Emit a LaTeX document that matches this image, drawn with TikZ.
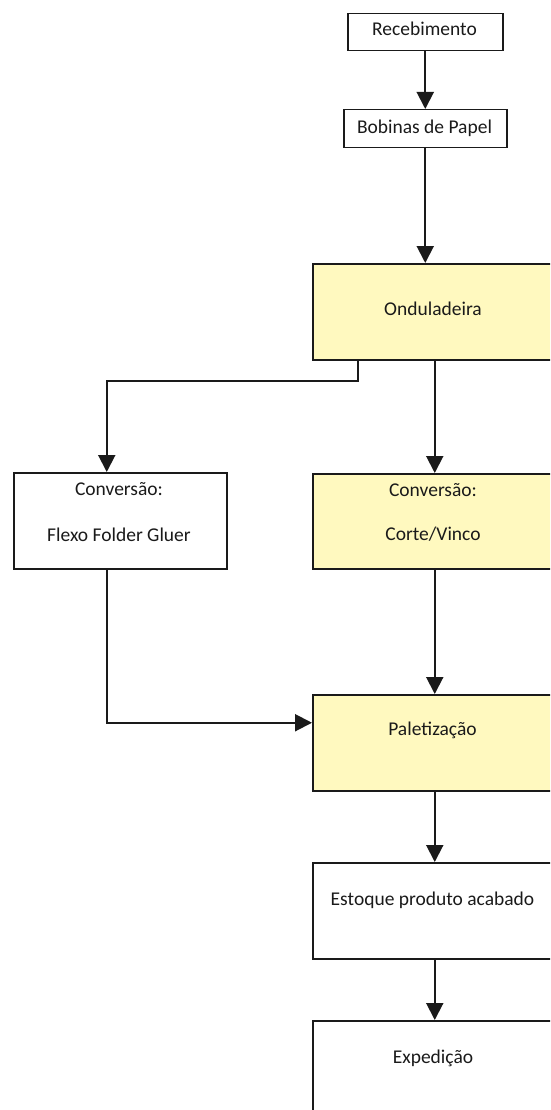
\documentclass[tikz,border=0pt]{standalone}
\usepackage{fontspec}
\setmainfont{Carlito}
\usetikzlibrary{arrows.meta}
\definecolor{boxfill}{HTML}{FFF9BF}
\definecolor{ink}{HTML}{1A1A1A}
\begin{document}
\begin{tikzpicture}[x=1pt,y=-1pt,
  stage/.style={draw=ink, line width=1.5pt, fill=white, rectangle, inner sep=0pt, anchor=north west},
  hl/.style={fill=boxfill},
  lbl/.style={font=\fontsize{19.5}{23}\selectfont, text=ink, anchor=mid, inner sep=0pt},
  arr/.style={draw=ink, line width=2pt, -{Triangle[length=17pt,width=17pt]}}]
\clip (0,0) rectangle (550,1110);
\fill[white] (0,0) rectangle (550,1110);

% process boxes
\node[stage, minimum width=155pt, minimum height=37pt] (rec) at (347,13) {};
\node[stage, minimum width=163pt, minimum height=38pt] (bob) at (343,109) {};
\node[stage, hl, minimum width=244pt, minimum height=96pt] (ond) at (312,263) {};
\node[stage, minimum width=213pt, minimum height=96pt] (conL) at (13,472) {};
\node[stage, hl, minimum width=244pt, minimum height=95pt] (conR) at (312,473) {};
\node[stage, hl, minimum width=244pt, minimum height=96pt] (pal) at (312,694) {};
\node[stage, minimum width=244pt, minimum height=96pt] (est) at (312,862) {};
\node[stage, minimum width=244pt, minimum height=96pt] (exp) at (312,1020) {};

% labels
\node[lbl] (recT) at (424.5,33.5) {Recebimento};
\node[lbl] (bobT) at (424.5,131) {Bobinas de Papel};
\node[lbl] (ondT) at (433,313) {Onduladeira};
\node[lbl] (conLa) at (119,493) {Conversão:};
\node[lbl] (conLb) at (119,539) {Flexo Folder Gluer};
\node[lbl] (conRa) at (433,494) {Conversão:};
\node[lbl] (conRb) at (433,538) {Corte/Vinco};
\node[lbl] (palT) at (432.5,733) {Paletização};
\node[lbl] (estT) at (432.5,903) {Estoque produto acabado};
\node[lbl] (expT) at (433,1061) {Expedição};

% flow
\draw[arr] (rec.south) -- (bob.north);
\draw[arr] (bob.south) -- (bob.south |- ond.north);
\draw[arr] (ond.south) -- (conR.north);
\draw[arr] ([xshift=46pt]ond.south west) -- ++(0,20) -| ([xshift=-13.5pt]conL.north);
\draw[arr] ([xshift=-13.5pt]conL.south) |- ([yshift=20pt]pal.west);
\draw[arr] (conR.south) -- (pal.north);
\draw[arr] (pal.south) -- (est.north);
\draw[arr] (est.south) -- (exp.north);
\end{tikzpicture}
\end{document}
